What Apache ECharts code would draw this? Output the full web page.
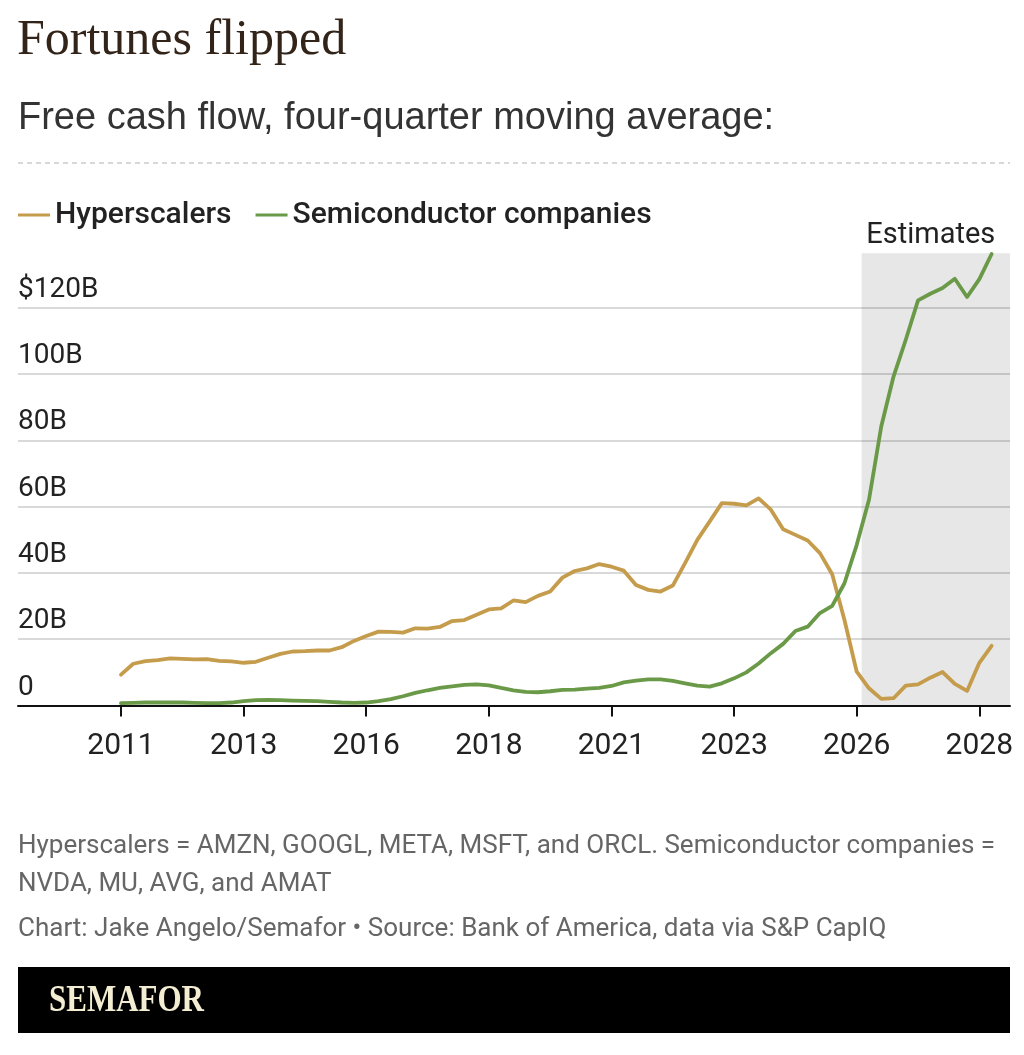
<!DOCTYPE html>
<html><head><meta charset="utf-8">
<script src="https://cdn.jsdelivr.net/npm/echarts@6/dist/echarts.min.js"></script>
<style>html,body{margin:0;padding:0;background:#fff}#chart{width:1024px;height:1055px}</style>
</head><body><div id="chart"></div>
<script>
// Quarters (2011 Q1 .. 2028 Q4)
const quarters = [
 '2011Q1','2011Q2','2011Q3','2011Q4','2012Q1','2012Q2','2012Q3','2012Q4',
 '2013Q1','2013Q2','2013Q3','2013Q4','2014Q1','2014Q2','2014Q3','2014Q4',
 '2015Q1','2015Q2','2015Q3','2015Q4','2016Q1','2016Q2','2016Q3','2016Q4',
 '2017Q1','2017Q2','2017Q3','2017Q4','2018Q1','2018Q2','2018Q3','2018Q4',
 '2019Q1','2019Q2','2019Q3','2019Q4','2020Q1','2020Q2','2020Q3','2020Q4',
 '2021Q1','2021Q2','2021Q3','2021Q4','2022Q1','2022Q2','2022Q3','2022Q4',
 '2023Q1','2023Q2','2023Q3','2023Q4','2024Q1','2024Q2','2024Q3','2024Q4',
 '2025Q1','2025Q2','2025Q3','2025Q4','2026Q1','2026Q2','2026Q3','2026Q4',
 '2027Q1','2027Q2','2027Q3','2027Q4','2028Q1','2028Q2','2028Q3','2028Q4'
];
// Free cash flow, $B, four-quarter moving average
const hyperscalers = [
 9.3,12.6,13.4,13.7,14.2,14.1,13.9,14.0,13.5,13.3,
 12.9,13.2,14.4,15.6,16.3,16.4,16.6,16.6,17.6,19.5,
 21.0,22.3,22.2,22.0,23.3,23.2,23.7,25.5,25.8,27.4,
 29.0,29.3,31.7,31.2,33.1,34.4,38.6,40.6,41.4,42.7,
 41.9,40.7,36.4,34.9,34.4,36.2,43.0,50.0,55.5,61.1,
 60.9,60.4,62.5,59.1,53.2,51.5,49.8,46.0,39.6,25.8,
 10.2,5.2,2.0,2.2,6.0,6.4,8.4,10.1,6.5,4.4,
 12.9,18.0
];
const semiconductors = [
 0.7,0.8,0.9,0.9,0.9,0.9,0.8,0.7,0.7,0.9,
 1.3,1.6,1.7,1.6,1.5,1.4,1.3,1.1,0.9,0.8,
 0.9,1.3,1.9,2.8,3.8,4.6,5.3,5.8,6.2,6.4,
 6.1,5.3,4.6,4.1,4.0,4.3,4.7,4.8,5.1,5.3,
 5.9,7.0,7.5,7.9,7.9,7.4,6.7,6.0,5.7,6.7,
 8.2,10.0,12.7,15.8,18.6,22.5,23.8,27.9,30.1,36.9,
 48.5,62.1,84.2,99.3,110.4,122.3,124.3,126.0,128.8,123.3,
 128.7,136.3
];
const tickYears  = [2011, 2013.5, 2016, 2018.5, 2021, 2023.5, 2026, 2028.5];
const tickLabels = ['2011','2013','2016','2018','2021','2023','2026','2028'];
const yTicks = [0, 20, 40, 60, 80, 100, 120];
const yTickLabels = ['0','20B','40B','60B','80B','100B','$120B'];
const estimatesStart = 2026.1;

const GOLD = '#c49c4c';
const GREEN = '#6a9a48';
const SANS = 'Roboto, "Noto Sans", sans-serif';

function qToYear(q){ return +q.slice(0,4) + (+q.slice(5) - 1) / 4; }
const xs = quarters.map(qToYear);

const chart = echarts.init(document.getElementById('chart'), null, {renderer:'canvas'});
chart.setOption({
  animation: false,
  backgroundColor: '#fff',
  title: [
    {text: 'Fortunes flipped', left: 17, top: 16, padding: 0,
     textStyle: {fontFamily: '"Liberation Serif", serif', fontSize: 50, fontWeight: 'normal', color: '#33241a'}},
    {text: 'Free cash flow, four-quarter moving average:', left: 18, top: 100, padding: 0,
     textStyle: {fontFamily: '"Liberation Sans", Arial, sans-serif', fontSize: 38, fontWeight: 'normal', color: '#333'}},
    {text: 'Hyperscalers = AMZN, GOOGL, META, MSFT, and ORCL. Semiconductor companies =\nNVDA, MU, AVG, and AMAT',
     left: 18, top: 827, padding: 0,
     textStyle: {fontFamily: SANS, fontSize: 26, lineHeight: 38, fontWeight: 'normal', color: '#666'}},
    {text: 'Chart: Jake Angelo/Semafor \u2022 Source: Bank of America, data via S&P CapIQ',
     left: 18, top: 916, padding: 0,
     textStyle: {fontFamily: SANS, fontSize: 26, fontWeight: 'normal', color: '#666'}}
  ],
  legend: {
    left: 18, top: 198, padding: 0,
    icon: 'rect', itemWidth: 32, itemHeight: 3, itemGap: 24,
    textStyle: {fontFamily: SANS, fontSize: 30, fontWeight: 500, color: '#222', lineHeight: 34},
    data: ['Hyperscalers', 'Semiconductor companies']
  },
  grid: {left: 18, right: 14, top: 253.3, bottom: 349.5, containLabel: false},
  xAxis: {
    type: 'value', min: 2008.9, max: 2029.125,
    axisLine: {show: true, onZero: false, lineStyle: {color: '#111', width: 2}},
    axisTick: {show: true, customValues: tickYears, length: 11, lineStyle: {color: '#111', width: 2}},
    axisLabel: {customValues: tickYears, margin: 26, fontFamily: SANS, fontSize: 30, color: '#222',
      formatter: v => { const i = tickYears.indexOf(v); return i >= 0 ? tickLabels[i] : ''; }},
    splitLine: {show: false}
  },
  yAxis: {
    type: 'value', min: 0, max: 136.5, interval: 20,
    axisLine: {show: false}, axisTick: {show: false},
    splitLine: {show: true, showMinLine: false, showMaxLine: false, lineStyle: {color: '#cccccc', width: 1.5}},
    axisLabel: {inside: true, showMaxLabel: false, margin: 0, verticalAlign: 'bottom', padding: [0,0,4,0],
      fontFamily: SANS, fontSize: 28, color: '#222',
      formatter: v => { const i = yTicks.indexOf(v); return i >= 0 ? yTickLabels[i] : ''; }}
  },
  series: [
    {name: 'Hyperscalers', type: 'line', showSymbol: false, clip: false, z: 3,
     data: xs.map((x, i) => [x, hyperscalers[i]]),
     lineStyle: {color: GOLD, width: 3.8, join: 'round', cap: 'round'}, itemStyle: {color: GOLD},
     markArea: {silent: true, z: 1,
       itemStyle: {color: 'rgba(0,0,0,0.095)'},
       label: {show: true, position: 'top', distance: 3, offset: [-5, 0], formatter: 'Estimates',
               fontFamily: SANS, fontSize: 29, color: '#222'},
       data: [[{xAxis: estimatesStart}, {xAxis: 2029.125}]]}},
    {name: 'Semiconductor companies', type: 'line', showSymbol: false, clip: false, z: 4,
     data: xs.map((x, i) => [x, semiconductors[i]]),
     lineStyle: {color: GREEN, width: 3.8, join: 'round', cap: 'round'}, itemStyle: {color: GREEN}}
  ],
  graphic: [
    {type: 'line', shape: {x1: 18, y1: 163, x2: 1010, y2: 163}, style: {stroke: '#cccccc', lineWidth: 1.5, lineDash: [5, 4]}},
    {type: 'rect', shape: {x: 18, y: 967, width: 992, height: 66}, style: {fill: '#000'}},
    {type: 'text', x: 49, y: 1001, scaleY: 1.2,
     style: {text: 'SEMAFOR', fill: '#f3edd2', font: 'bold 31px "Liberation Serif", serif', verticalAlign: 'middle', align: 'left'}}
  ]
});
</script></body></html>
